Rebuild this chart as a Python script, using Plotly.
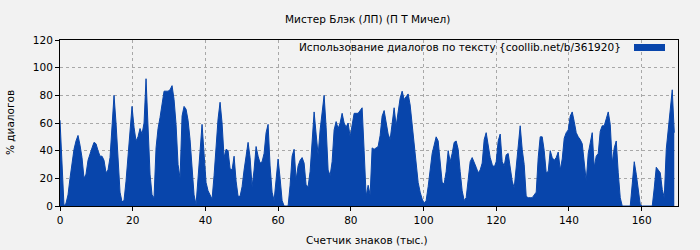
import plotly.graph_objects as go

# Share of dialogue (%) sampled along the text, in order (one value per ~0.55k characters)
pct_part1 = [62, 30, 0, 2, 8, 20, 31, 41, 47, 51, 44, 35, 20, 23, 33, 38, 42, 46, 45, 40,
             36, 36, 33, 24, 26, 35, 61, 80, 60, 33, 10, 3, 4, 18, 36, 57, 72, 57]
pct_part2 = [47, 50, 56, 52, 60, 92, 50, 23, 8, 6, 42, 56, 64, 74, 83, 83, 83, 84, 87, 77,
             59, 30, 20, 65, 72, 70, 62, 48, 27, 8, 1, 22, 38, 59, 38, 17, 11, 8, 5]
pct_part3 = [22, 47, 63, 75, 60, 35, 41, 40, 27, 26, 36, 18, 7, 7, 14, 26, 38, 46, 35, 14,
             26, 43, 36, 31, 32, 38, 53, 59, 29, 10, 4, 22, 34, 20, 4, 0, 0, 0, 15]
pct_part4 = [36, 41, 19, 29, 33, 35, 31, 15, 14, 25, 46, 68, 52, 37, 55, 69, 80, 57, 26, 22,
             32, 55, 61, 56, 60, 67, 60, 57, 60, 50, 58, 67, 67, 67, 69, 71, 40, 7]
pct_part5 = [15, 8, 42, 41, 42, 43, 51, 65, 69, 59, 52, 48, 62, 71, 58, 69, 78, 83, 77, 79,
             81, 73, 59, 44, 29, 17, 10, 5, 2, 4, 14, 28, 38, 44, 50, 47, 31, 17, 16, 25]
pct_part6 = [40, 32, 38, 46, 47, 41, 25, 11, 4, 6, 19, 32, 35, 32, 28, 24, 26, 31, 48, 53,
             42, 35, 30, 28, 32, 47, 52, 32, 29, 37, 38, 29, 18, 13, 28, 48, 58, 41, 30]
pct_part7 = [7, 6, 6, 6, 8, 10, 35, 50, 50, 40, 24, 25, 40, 35, 33, 35, 39, 26, 34, 49,
             53, 55, 65, 68, 61, 53, 50, 48, 45, 31, 18, 38, 47, 53, 28, 36, 38, 54, 58]
pct_part8 = [58, 63, 68, 59, 31, 42, 47, 24, 6, 0, 0, 0, 0, 0, 16, 32, 23, 11, 1, 0,
             0, 0, 0, 0, 0, 13, 28, 26, 24, 12, 6, 41, 56, 71, 84, 53]

STEP_K = 0.5504  # thousand characters per sample
pct = pct_part1 + pct_part2 + pct_part3 + pct_part4 + pct_part5 + pct_part6 + pct_part7 + pct_part8
chars_k = [i * STEP_K for i in range(len(pct))]

x_ticks = [0, 20, 40, 60, 80, 100, 120, 140, 160]
y_ticks = [0, 20, 40, 60, 80, 100, 120]

title_text = "Мистер Блэк (ЛП) (П Т Мичел)"
legend_text = "Использование диалогов по тексту {coollib.net/b/361920}"
x_title = "Счетчик знаков (тыс.)"
y_title = "% диалогов"

BLUE = "#0845ab"
BG = "#f2f2f2"
FONT = "DejaVu Sans"
FS = 10.5

L, R, T, B = 60, 22, 40, 44
W, H = 700, 250
PW, PH = W - L - R, H - T - B

fig = go.Figure()
fig.add_trace(go.Scatter(
    x=chars_k, y=pct, mode="lines", line=dict(color=BLUE, width=1),
    fill="tozeroy", fillcolor=BLUE, showlegend=False, hoverinfo="skip",
))

axis_common = dict(
    showline=True, linecolor="black", linewidth=1, mirror=True,
    showgrid=True, gridcolor="#a8a8a8", griddash="dot", gridwidth=1,
    ticks="outside", ticklen=4, tickcolor="black", zeroline=False, automargin=False,
    tickfont=dict(family=FONT, size=FS, color="black"),
)

fig.update_layout(
    width=W, height=H,
    margin=dict(l=L, r=R, t=T, b=B, autoexpand=False),
    paper_bgcolor=BG, plot_bgcolor=BG,
    font=dict(family=FONT, size=FS, color="black"),
    xaxis=dict(range=[0, 170], tickvals=x_ticks, ticktext=[str(v) for v in x_ticks],
               **axis_common),
    yaxis=dict(range=[0, 120], tickvals=y_ticks, ticktext=[str(v) for v in y_ticks],
               **axis_common),
    showlegend=False,
)

def px_x(p):
    return (p - L) / PW

def px_y(p):
    return (H - B - p) / PH

# Title and axis titles
fig.add_annotation(text=title_text, xref="paper", yref="paper", x=px_x(367), y=px_y(19),
                   xanchor="center", yanchor="middle", showarrow=False,
                   font=dict(family=FONT, size=FS, color="black"))
fig.add_annotation(text=x_title, xref="paper", yref="paper", x=px_x(367), y=px_y(240),
                   xanchor="center", yanchor="middle", showarrow=False,
                   font=dict(family=FONT, size=FS, color="black"))
fig.add_annotation(text=y_title, xref="paper", yref="paper", x=px_x(10), y=px_y(123),
                   xanchor="center", yanchor="middle", showarrow=False, textangle=-90,
                   font=dict(family=FONT, size=FS, color="black"))

# Legend (drawn manually to match the reference's rectangular swatch)
fig.add_annotation(text=legend_text, xref="paper", yref="paper",
                   x=px_x(623), y=px_y(47), xanchor="right", yanchor="middle",
                   showarrow=False, font=dict(family=FONT, size=FS, color="black"))
fig.add_shape(type="rect", xref="paper", yref="paper",
              x0=px_x(634), x1=px_x(665), y0=px_y(51), y1=px_y(44),
              fillcolor=BLUE, line=dict(width=0))

fig.write_html("out.html")
